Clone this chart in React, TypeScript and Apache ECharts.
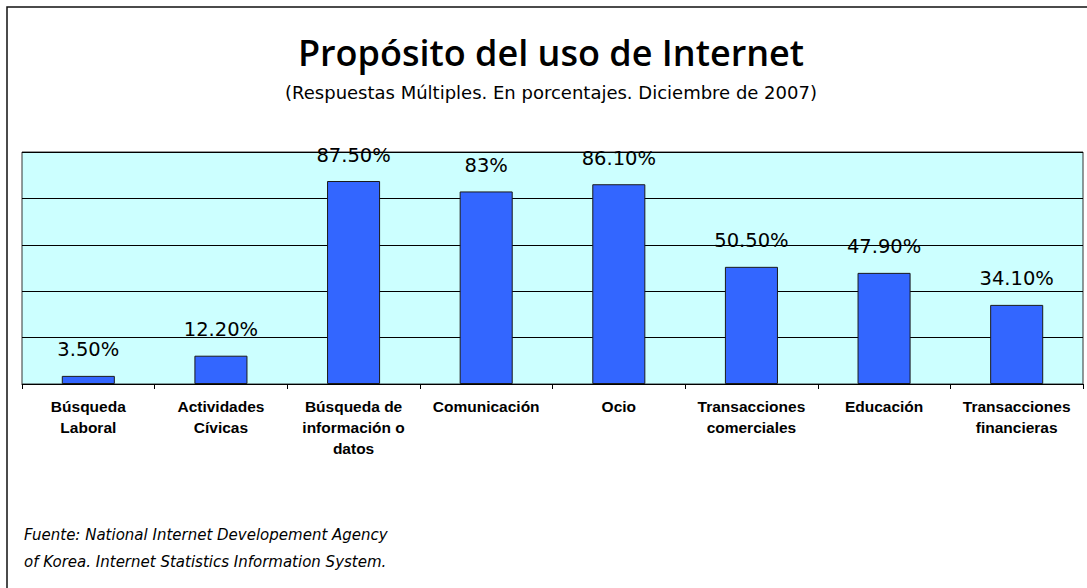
import React, { useEffect, useRef } from "react";
import * as echarts from "echarts";

const categories = [
  "Búsqueda\nLaboral",
  "Actividades\nCívicas",
  "Búsqueda de\ninformación o\ndatos",
  "Comunicación",
  "Ocio",
  "Transacciones\ncomerciales",
  "Educación",
  "Transacciones\nfinancieras",
];
const values = [3.5, 12.2, 87.5, 83, 86.1, 50.5, 47.9, 34.1];
const valueLabels = ["3.50%", "12.20%", "87.50%", "83%", "86.10%", "50.50%", "47.90%", "34.10%"];

const TITLE = "Propósito del uso de Internet";
const SUBTITLE = "(Respuestas Múltiples. En porcentajes. Diciembre de 2007)";
const SOURCE = [
  "Fuente: National Internet Developement Agency",
  "of Korea. Internet Statistics Information System.",
];

export default function App() {
  const ref = useRef<HTMLDivElement>(null);
  useEffect(() => {
    if (!ref.current) return;
    const chart = echarts.init(ref.current, undefined, { renderer: "svg" });
    chart.setOption({
      animation: false,
      backgroundColor: "#ffffff",
      grid: {
        left: 22,
        top: 152,
        right: 4,
        bottom: 204,
        show: true,
        backgroundColor: "#CCFFFF",
        borderColor: "#333333",
        borderWidth: 1,
        containLabel: false,
      },
      xAxis: {
        type: "category",
        data: categories,
        axisLine: { show: true, lineStyle: { color: "#000", width: 1 } },
        axisTick: { show: true, length: 5, lineStyle: { color: "#000" } },
        axisLabel: {
          interval: 0,
          margin: 12,
          color: "#000",
          fontFamily: "Liberation Sans",
          fontWeight: "bold",
          fontSize: 15.5,
          lineHeight: 21,
          align: "center",
        },
      },
      yAxis: {
        type: "value",
        min: 0,
        max: 100,
        interval: 20,
        axisLabel: { show: false },
        axisLine: { show: false },
        axisTick: { show: false },
        splitLine: { show: true, lineStyle: { color: "#000", width: 1 } },
      },
      series: [
        {
          type: "bar",
          data: values,
          barWidth: "40%",
          itemStyle: { color: "#3366FF", borderColor: "#1a1a1a", borderWidth: 1 },
          label: {
            show: true,
            position: "top",
            distance: 16,
            color: "#000",
            fontFamily: "DejaVu Sans",
            fontSize: 19.5,
            formatter: (p: any) => valueLabels[p.dataIndex],
          },
        },
      ],
      graphic: [
        {
          type: "rect",
          shape: { x: 7, y: 7, width: 1200, height: 700 },
          style: { fill: "none", stroke: "#111", lineWidth: 1.5 },
          silent: true,
          z: -1,
        },
        {
          type: "text",
          x: 551,
          y: 52,
          style: {
            text: TITLE,
            fill: "#000",
            font: "600 36px 'Open Sans'",
            textAlign: "center",
            textVerticalAlign: "middle",
          },
        },
        {
          type: "text",
          x: 551,
          y: 92,
          style: {
            text: SUBTITLE,
            fill: "#000",
            font: "18px 'DejaVu Sans'",
            textAlign: "center",
            textVerticalAlign: "middle",
          },
        },
        {
          type: "text",
          x: 24,
          y: 535,
          style: {
            text: SOURCE[0],
            fill: "#000",
            font: "italic 15px 'DejaVu Sans'",
            textAlign: "left",
            textVerticalAlign: "middle",
          },
        },
        {
          type: "text",
          x: 24,
          y: 562,
          style: {
            text: SOURCE[1],
            fill: "#000",
            font: "italic 15px 'DejaVu Sans'",
            textAlign: "left",
            textVerticalAlign: "middle",
          },
        },
      ],
    });
    return () => chart.dispose();
  }, []);
  return (
    <div
      ref={ref}
      style={{ position: "fixed", left: 0, top: 0, width: 1087, height: 588 }}
    />
  );
}
